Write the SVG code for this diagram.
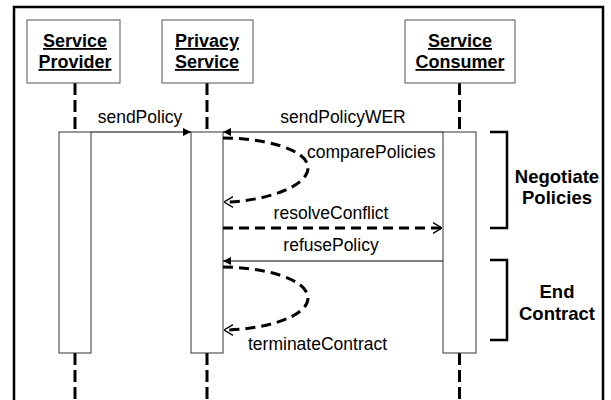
<svg xmlns="http://www.w3.org/2000/svg" width="611" height="400" viewBox="0 0 611 400">
<defs>
<marker id="filled" viewBox="0 0 10 10" refX="10" refY="5" markerWidth="8" markerHeight="9" markerUnits="userSpaceOnUse" orient="auto">
<path d="M0,0 L10,5 L0,10 Z" fill="#000"/>
</marker>
<marker id="open" viewBox="0 0 10 12" refX="10" refY="6" markerWidth="9" markerHeight="12" markerUnits="userSpaceOnUse" orient="auto">
<path d="M0,0 L10,6 L0,12" fill="none" stroke="#000" stroke-width="1.5"/>
</marker>
</defs>
<style>
.hdr{fill:#fff;stroke:#555;stroke-width:1}
.hdrt{font-family:"Liberation Sans",Arial,sans-serif;font-weight:bold;font-size:18px;text-anchor:middle;text-decoration:underline;fill:#000}
.life{stroke:#000;stroke-width:3;stroke-dasharray:12,5;fill:none}
.act{fill:#fff;stroke:#333;stroke-width:1}
.msg{stroke:#000;stroke-width:1.2;fill:none}
.dash{stroke:#000;stroke-width:3;stroke-dasharray:10,6;fill:none}
.lbl{font-family:"Liberation Sans",Arial,sans-serif;font-size:17.5px;fill:#000}
.brk{stroke:#000;stroke-width:2.5;fill:none}
.blbl{font-family:"Liberation Sans",Arial,sans-serif;font-weight:bold;font-size:18.5px;text-anchor:middle;fill:#000}
</style>
<rect x="0" y="0" width="611" height="400" fill="#fff"/>
<rect x="14" y="7" width="589" height="420" fill="none" stroke="#000" stroke-width="2.5"/>
<g id="lifelines">
<line class="life" x1="75" y1="83" x2="75" y2="132"/>
<line class="life" x1="75" y1="353" x2="75" y2="400"/>
<line class="life" x1="207" y1="83" x2="207" y2="132"/>
<line class="life" x1="207" y1="353" x2="207" y2="400"/>
<line class="life" x1="459.5" y1="83" x2="459.5" y2="132"/>
<line class="life" x1="459.5" y1="353" x2="459.5" y2="400"/>
</g>
<g id="serviceProvider">
<rect class="hdr" x="27" y="20" width="93" height="63"/>
<text class="hdrt" x="75" y="47">Service</text>
<text class="hdrt" x="75" y="68">Provider</text>
<rect class="act" x="59" y="132" width="32" height="221"/>
</g>
<g id="privacyService">
<rect class="hdr" x="162" y="20" width="91" height="63"/>
<text class="hdrt" x="207" y="47">Privacy</text>
<text class="hdrt" x="207" y="68">Service</text>
<rect class="act" x="191" y="132" width="32" height="221"/>
</g>
<g id="serviceConsumer">
<rect class="hdr" x="405" y="20" width="110" height="63"/>
<text class="hdrt" x="460" y="47">Service</text>
<text class="hdrt" x="460" y="68">Consumer</text>
<rect class="act" x="443" y="132" width="33" height="221"/>
</g>
<g id="connectors">
<line class="msg" x1="91" y1="132" x2="191" y2="132" marker-end="url(#filled)"/>
<line class="msg" x1="443" y1="132" x2="223" y2="132" marker-end="url(#filled)"/>
<path class="dash" d="M223,138 C260,138 308,148 308,168 C308,188 260,202 224,202" marker-end="url(#open)"/>
<line class="dash" x1="223" y1="228" x2="442" y2="228" marker-end="url(#open)"/>
<line class="msg" x1="443" y1="261" x2="223" y2="261" marker-end="url(#filled)"/>
<path class="dash" d="M223,267 C260,267 308,278 308,298 C308,318 260,330 224,330" marker-end="url(#open)"/>
</g>
<g id="labels">
<text class="lbl" x="140" y="123" text-anchor="middle">sendPolicy</text>
<text class="lbl" x="343" y="123" text-anchor="middle">sendPolicyWER</text>
<text class="lbl" x="307" y="158">comparePolicies</text>
<text class="lbl" x="331" y="219" text-anchor="middle">resolveConflict</text>
<text class="lbl" x="331" y="251" text-anchor="middle">refusePolicy</text>
<text class="lbl" x="248" y="350">terminateContract</text>
</g>
<g id="negotiatePolicies">
<path class="brk" d="M490,132 L507,132 L507,228 L490,228"/>
<text class="blbl" x="557" y="183">Negotiate</text>
<text class="blbl" x="557" y="204">Policies</text>
</g>
<g id="endContract">
<path class="brk" d="M490,260 L507,260 L507,340 L490,340"/>
<text class="blbl" x="557" y="298">End</text>
<text class="blbl" x="557" y="320">Contract</text>
</g>
</svg>
